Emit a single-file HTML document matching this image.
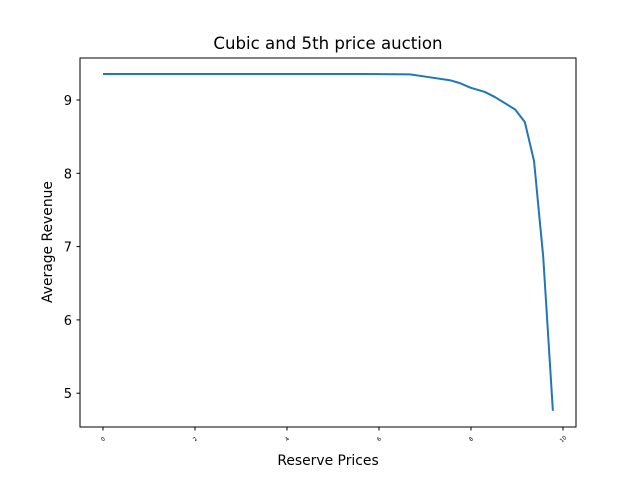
<!DOCTYPE html>
<html><head><meta charset="utf-8"><style>
body{margin:0;background:#fff;}
svg{display:block;font-family:"DejaVu Sans","Liberation Sans",sans-serif;}
</style></head><body>
<svg id="chart" width="640" height="480">
<rect width="640" height="480" fill="#fff"/>
<text x="328" y="49" text-anchor="middle" font-size="16.6">Cubic and 5th price auction</text>
<g id="plot"></g>
<rect x="80" y="58" width="496" height="369" fill="none" stroke="#000" stroke-width="1"/>
<text x="328" y="465" text-anchor="middle" font-size="13.9">Reserve Prices</text>
<text transform="translate(52,242) rotate(-90)" text-anchor="middle" font-size="13.9">Average Revenue</text>
</svg>
<script>
const xs = [0, 1, 2, 3, 4, 5, 5.6, 6.67, 6.89, 7.54, 7.76, 7.98, 8.30, 8.52, 8.96, 9.17, 9.37, 9.57, 9.78];
const revenue = [9.355, 9.355, 9.355, 9.355, 9.355, 9.355, 9.355, 9.35, 9.33, 9.27, 9.23, 9.17, 9.11, 9.04, 8.87, 8.70, 8.17, 6.86, 4.76];
const xTicks = [0, 2, 4, 6, 8, 10];
const yTicks = [5, 6, 7, 8, 9];
const X = v => 103 + v * 46;
const Y = v => 100 + (9 - v) * 73.3;
const ns = "http://www.w3.org/2000/svg";
const g = document.getElementById('plot');
function mk(t, a){const e=document.createElementNS(ns,t);for(const k in a)e.setAttribute(k,a[k]);g.appendChild(e);return e;}
xTicks.forEach(t=>{
  const l=mk('line',{x1:X(t),x2:X(t),y1:427,y2:430.5,stroke:'#000'});
  
  
  const tx=mk('text',{x:X(t),y:441,'font-size':5.5,'text-anchor':'middle',transform:`rotate(-45 ${X(t)} 439)`});
  tx.textContent=t;
  
  
});
yTicks.forEach(t=>{
  const l=mk('line',{x1:76.5,x2:80,y1:Y(t),y2:Y(t),stroke:'#000'});
  
  
  const tx=mk('text',{x:72,y:Y(t)+5,'font-size':13,'text-anchor':'end'});
  tx.textContent=t;
  
  
});
const p=mk('polyline',{points:xs.map((x,i)=>X(x)+','+Y(revenue[i])).join(' '),fill:'none',stroke:'#1f77b4','stroke-width':2,'stroke-linejoin':'round'});


</script>
</body></html>
